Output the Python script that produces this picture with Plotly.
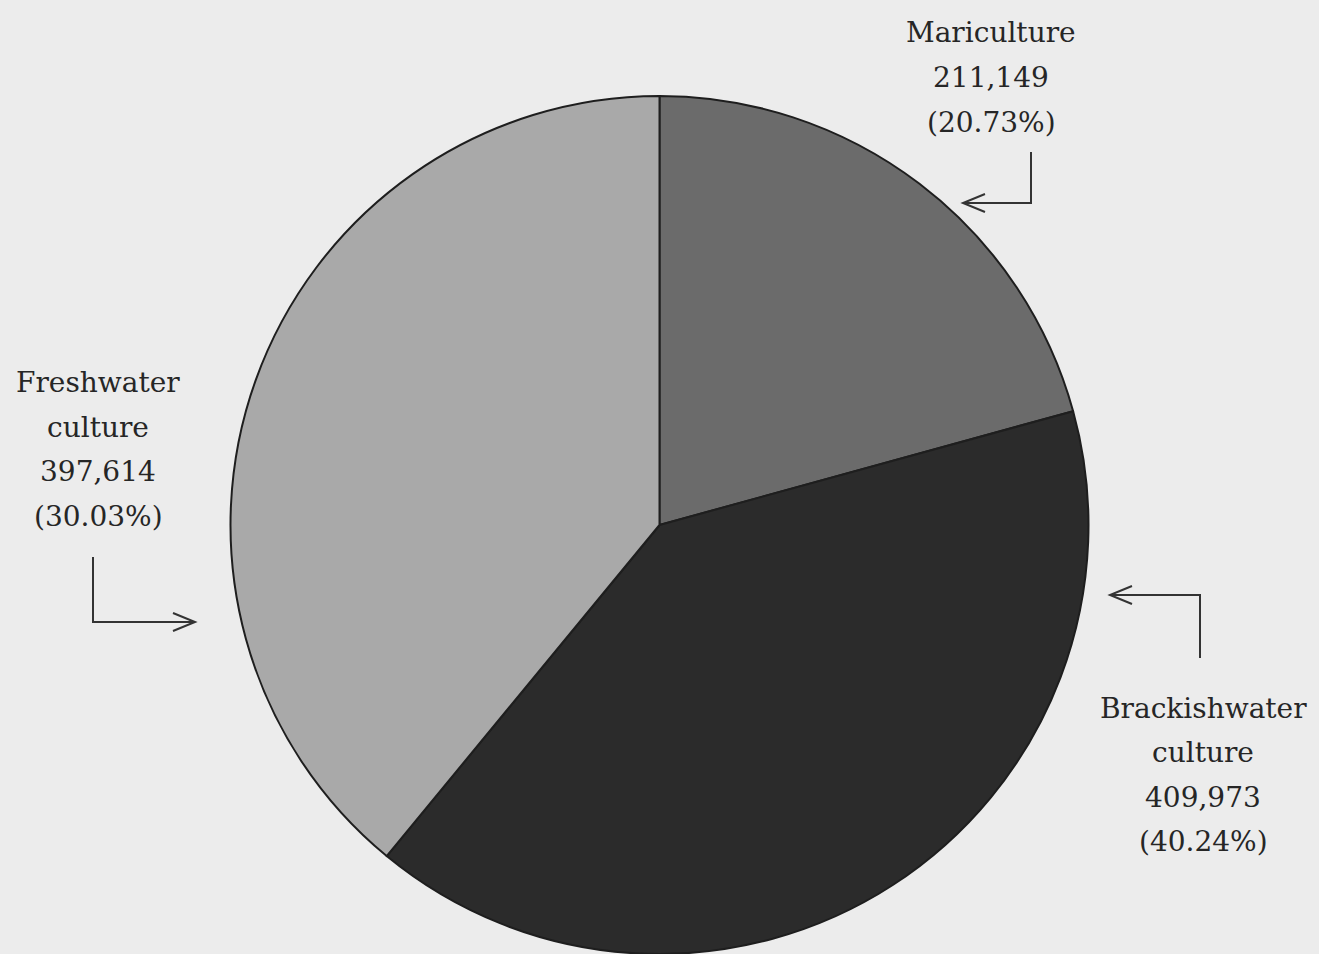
import plotly.graph_objects as go

# ---- data ----
categories = ["Mariculture", "Brackishwater culture", "Freshwater culture"]
values = [211149, 409973, 397614]
value_labels = ["211,149", "409,973", "397,614"]
percent_labels = ["(20.73%)", "(40.24%)", "(30.03%)"]
name_lines = [["Mariculture"], ["Brackishwater", "culture"], ["Freshwater", "culture"]]
colors = ["#6b6b6b", "#2b2b2b", "#a9a9a9"]

W, H = 1319, 954
BG = "#ececec"
FONT = "DejaVu Serif"
INK = "#333333"


def px(x):
    return x / W


def py(y):
    return 1 - y / H


fig = go.Figure(
    go.Pie(
        labels=categories,
        values=values,
        sort=False,
        direction="clockwise",
        rotation=0,
        marker=dict(colors=colors, line=dict(color="#1e1e1e", width=2)),
        textinfo="none",
        hoverinfo="label+value",
        showlegend=False,
        domain=dict(x=[0, 1], y=[0, 1 - 96 / H]),
    )
)

# label text blocks: (center x, first line y) in pixels
label_pos = [(991, 33), (1203, 708), (98, 383)]
LINE_STEP = 44.5
annotations = []
for i, (cx, y0) in enumerate(label_pos):
    lines = name_lines[i] + [value_labels[i], percent_labels[i]]
    for k, t in enumerate(lines):
        annotations.append(
            dict(
                x=px(cx), y=py(y0 + k * LINE_STEP), xref="paper", yref="paper",
                text=t, showarrow=False, xanchor="center", yanchor="middle",
                font=dict(family=FONT, size=28, color="#262626"),
            )
        )


def elbow_path(pts, tip, direction):
    d = "M " + " L ".join(f"{px(x)},{py(y)}" for x, y in pts)
    tx, ty = tip
    L, Hw = 22, 9
    sx = 1 if direction == "left" else -1
    d += f" M {px(tx + sx * L)},{py(ty - Hw)} L {px(tx)},{py(ty)} L {px(tx + sx * L)},{py(ty + Hw)}"
    return d


shapes = [
    dict(type="path", xref="paper", yref="paper",
         path=elbow_path([(1031, 152), (1031, 203), (963, 203)], (963, 203), "left"),
         line=dict(color=INK, width=2)),
    dict(type="path", xref="paper", yref="paper",
         path=elbow_path([(93, 557), (93, 622), (195, 622)], (195, 622), "right"),
         line=dict(color=INK, width=2)),
    dict(type="path", xref="paper", yref="paper",
         path=elbow_path([(1200, 658), (1200, 595), (1110, 595)], (1110, 595), "left"),
         line=dict(color=INK, width=2)),
]

fig.update_layout(
    width=W, height=H,
    margin=dict(l=0, r=0, t=0, b=0),
    paper_bgcolor=BG, plot_bgcolor=BG,
    annotations=annotations,
    shapes=shapes,
)

fig.write_html(
    "out.html",
    config={"displayModeBar": False},
    post_script="document.body.style.margin='0';document.body.style.overflow='hidden';",
)
